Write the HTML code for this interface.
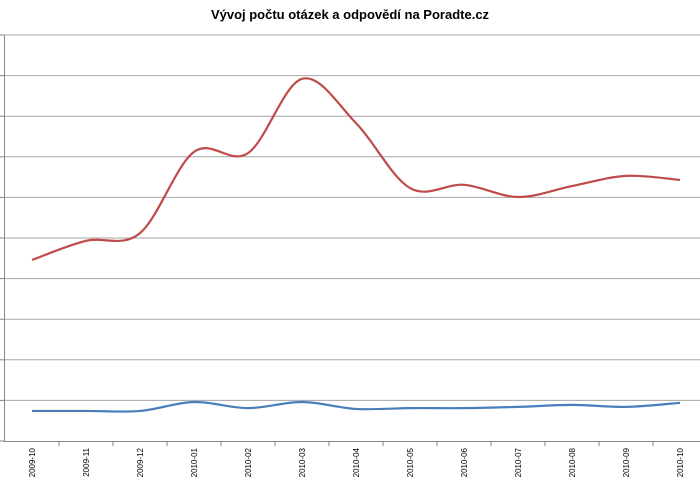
<!DOCTYPE html>
<html><head><meta charset="utf-8"><style>
body{margin:0;background:#fff;}
svg{display:block;font-family:"Liberation Sans",sans-serif;}
</style></head><body>
<svg id="chart" width="700" height="487">
<text x="350" y="19" text-anchor="middle" font-size="13" font-weight="bold" fill="#000">Vývoj počtu otázek a odpovědí na Poradte.cz</text>
<g id="grid"></g><g id="axes"></g><g id="series"></g><g id="labels"></g>
</svg>
<script>
const categories=["2009-10","2009-11","2009-12","2010-01","2010-02","2010-03","2010-04","2010-05","2010-06","2010-07","2010-08","2010-09","2010-10"];
const answers=[4.46,4.93,5.12,7.12,7.09,8.92,7.83,6.23,6.31,6.01,6.28,6.53,6.43];
const questions=[0.74,0.74,0.74,0.96,0.81,0.96,0.79,0.81,0.81,0.84,0.89,0.84,0.94];
const yTicks=[0,1,2,3,4,5,6,7,8,9,10];
const NS="http://www.w3.org/2000/svg";
const x0=5,step=54,yBase=441,yUnit=40.6;
const xPos=i=>x0+step*(i+0.5);
const yPos=v=>yBase-v*yUnit;
function mk(tag,attrs,parent){const e=document.createElementNS(NS,tag);for(const k in attrs)e.setAttribute(k,attrs[k]);parent.appendChild(e);return e;}
const grid=document.getElementById('grid'),axes=document.getElementById('axes'),ser=document.getElementById('series'),lab=document.getElementById('labels');
yTicks.forEach(t=>{
  if(t>0){const g=mk('line',{x1:4,x2:700,y1:yPos(t),y2:yPos(t),stroke:'#a6a6a6','stroke-width':1},grid);
  
  }
  const tk=mk('line',{x1:0,x2:4,y1:yPos(t),y2:yPos(t),stroke:'#868686'},axes);
  
  
});
const ya=mk('line',{x1:4.5,x2:4.5,y1:yPos(10),y2:yBase,stroke:'#868686'},axes);


const xa=mk('line',{x1:4,x2:700,y1:yBase+0.5,y2:yBase+0.5,stroke:'#868686'},axes);


categories.forEach((c,i)=>{
  const bx=x0+step*(i+1);
  const tk=mk('line',{x1:bx,x2:bx,y1:yBase,y2:yBase+5,stroke:'#868686'},axes);
  
  
  const t=mk('text',{x:0,y:0,transform:`translate(${xPos(i)+3},${yBase+7}) rotate(-90)`,'text-anchor':'end','font-size':8,fill:'#000'},lab);
  t.textContent=c;
  
  
});
function smooth(vals){
  const p=vals.map((v,i)=>[xPos(i),yPos(v)]);
  let d=`M${p[0][0]},${p[0][1]}`;
  for(let i=0;i<p.length-1;i++){
    const a=p[Math.max(0,i-1)],b=p[i],c=p[i+1],e=p[Math.min(p.length-1,i+2)];
    const c1=[b[0]+(c[0]-a[0])/6,b[1]+(c[1]-a[1])/6],c2=[c[0]-(e[0]-b[0])/6,c[1]-(e[1]-b[1])/6];
    d+=` C${c1[0]},${c1[1]} ${c2[0]},${c2[1]} ${c[0]},${c[1]}`;
  }
  return d;
}
const r=mk('path',{d:smooth(answers),fill:'none',stroke:'#be4b48','stroke-width':2.2},ser);


const b=mk('path',{d:smooth(questions),fill:'none',stroke:'#4a7ebb','stroke-width':2.2},ser);


</script>
</body></html>
